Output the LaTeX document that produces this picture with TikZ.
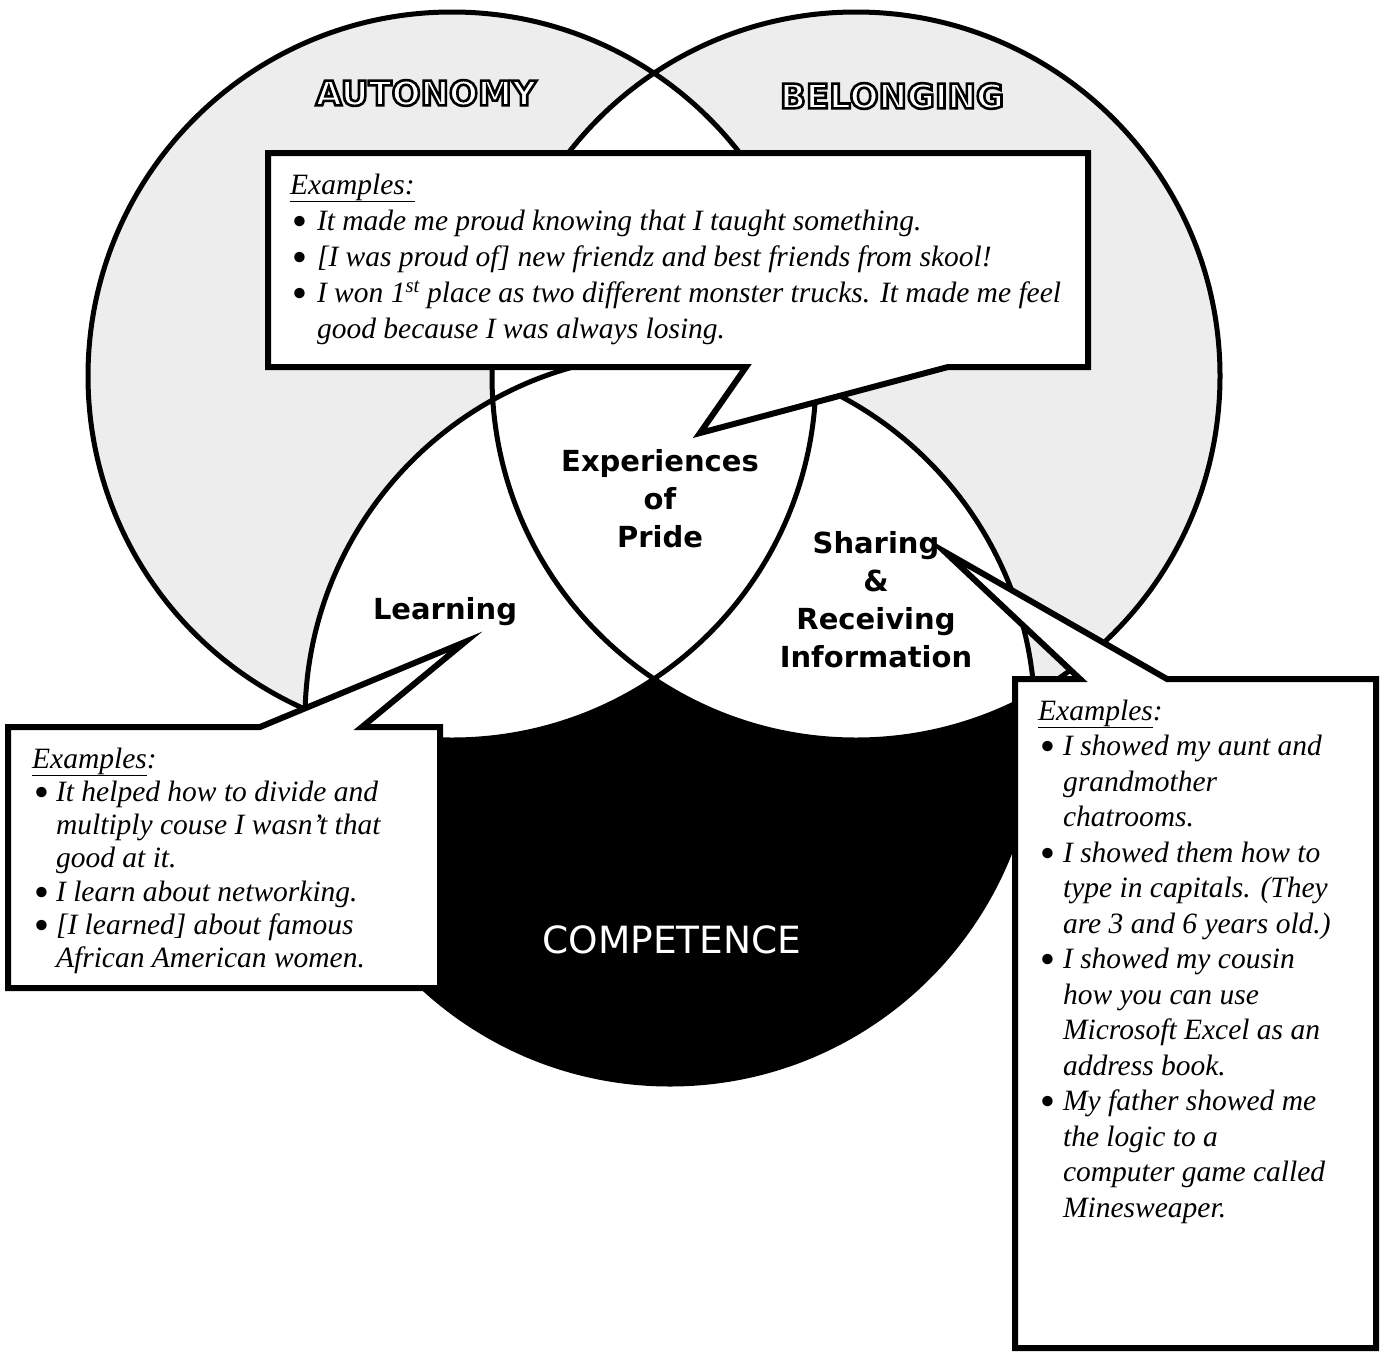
\documentclass[tikz,border=0pt]{standalone}
\usepackage{fontspec}
\setmainfont{Liberation Serif}
\newfontfamily\labelfont{DejaVu Sans}
\newcommand{\spot}{\raisebox{-2pt}{\labelfont\upshape\bfseries\textbullet}}
\newcommand{\hollow}[1]{\special{pdf:code 2 Tr 2.6 w 0 G 1 g}#1\special{pdf:code 0 Tr}}

\tikzset{
	ring/.style={draw=black, line width=5pt},
	tint/.style={fill=black!7},
	callout/.style={draw=black, fill=white, line width=6pt, line join=miter},
	saying/.style={anchor=base west, inner sep=0pt, font=\fontsize{29.5}{#1}\selectfont\itshape},
	zone/.style={align=center, inner sep=0pt, font=\labelfont\fontsize{29}{38}\selectfont\bfseries},
	need/.style={inner sep=0pt, text=white, font=\labelfont\fontsize{34}{38}\selectfont\bfseries},
}

\begin{document}
\begin{tikzpicture}[x=1pt, y=-1pt]
	\useasboundingbox (0,0) rectangle (1386,1352);
	\coordinate (autonomy) at (452,376);
	\coordinate (belonging) at (856,376);
	\coordinate (competence) at (670,719);

	\fill[tint, even odd rule] (autonomy) circle (364pt) (belonging) circle (364pt);
	\fill[black] (competence) circle (365pt);
	\begin{scope}
		\clip (competence) circle (365pt);
		\fill[white] (autonomy) circle (364pt) (belonging) circle (364pt);
	\end{scope}
	\draw[ring] (autonomy) circle (364pt) (belonging) circle (364pt) (competence) circle (365pt);

	\draw[callout] (268,153) -- (1088,153) -- (1088,367) -- (948,367) -- (700,433) -- (746,367) -- (268,367) -- cycle;
	\draw[callout] (8,727) -- (260,727) -- (465,642) -- (362,727) -- (440,727) -- (440,988) -- (8,988) -- cycle;
	\draw[callout] (1015,679) -- (1080,679) -- (945,552) -- (1167,679) -- (1376,679) -- (1376,1348) -- (1015,1348) -- cycle;

	\begin{scope}[every node/.style=need]
		\node (autonomylabel) at (426,93) {\hollow{AUTONOMY}};
		\node (belonginglabel) at (892,96) {\hollow{BELONGING}};
	\end{scope}

	\begin{scope}[every node/.style=zone]
		\node (pride) at (660,499) {Experiences\\of\\Pride};
		\node (learning) at (445,612) {Learning};
		\node (sharing) at (876,600) {Sharing\\\&\\Receiving\\Information};
	\end{scope}
	\node[zone, text=white, font=\labelfont\fontsize{37.5}{40}\selectfont] (competencelabel) at (672,940) {COMPETENCE};

	\node[saying=36] (pridenotes) at (290,194) {\begin{tabular}[t]{@{}l@{\hspace{8pt}}l@{}}
		\multicolumn{2}{@{}l@{}}{\underline{Examples:}}\\
		\spot & It made me proud knowing that I taught something.\\
		\spot & [I was proud of] new friendz and best friends from skool!\\
		\spot & I won 1\textsuperscript{st} place as two different monster trucks. It made me feel\\
		 & good because I was always losing.
	\end{tabular}};
	\node[saying=33.3] (learningnotes) at (32,768) {\begin{tabular}[t]{@{}l@{\hspace{5pt}}l@{}}
		\multicolumn{2}{@{}l@{}}{\underline{Examples}:}\\
		\spot & It helped how to divide and\\
		 & multiply couse I wasn't that\\
		 & good at it.\\
		\spot & I learn about networking.\\
		\spot & [I learned] about famous\\
		 & African American women.
	\end{tabular}};
	\node[saying=35.5] (sharingnotes) at (1038,720) {\begin{tabular}[t]{@{}l@{\hspace{6pt}}l@{}}
		\multicolumn{2}{@{}l@{}}{\underline{Examples}:}\\
		\spot & I showed my aunt and\\
		 & grandmother\\
		 & chatrooms.\\
		\spot & I showed them how to\\
		 & type in capitals. (They\\
		 & are 3 and 6 years old.)\\
		\spot & I showed my cousin\\
		 & how you can use\\
		 & Microsoft Excel as an\\
		 & address book.\\
		\spot & My father showed me\\
		 & the logic to a\\
		 & computer game called\\
		 & Minesweaper.
	\end{tabular}};
\end{tikzpicture}
\end{document}
